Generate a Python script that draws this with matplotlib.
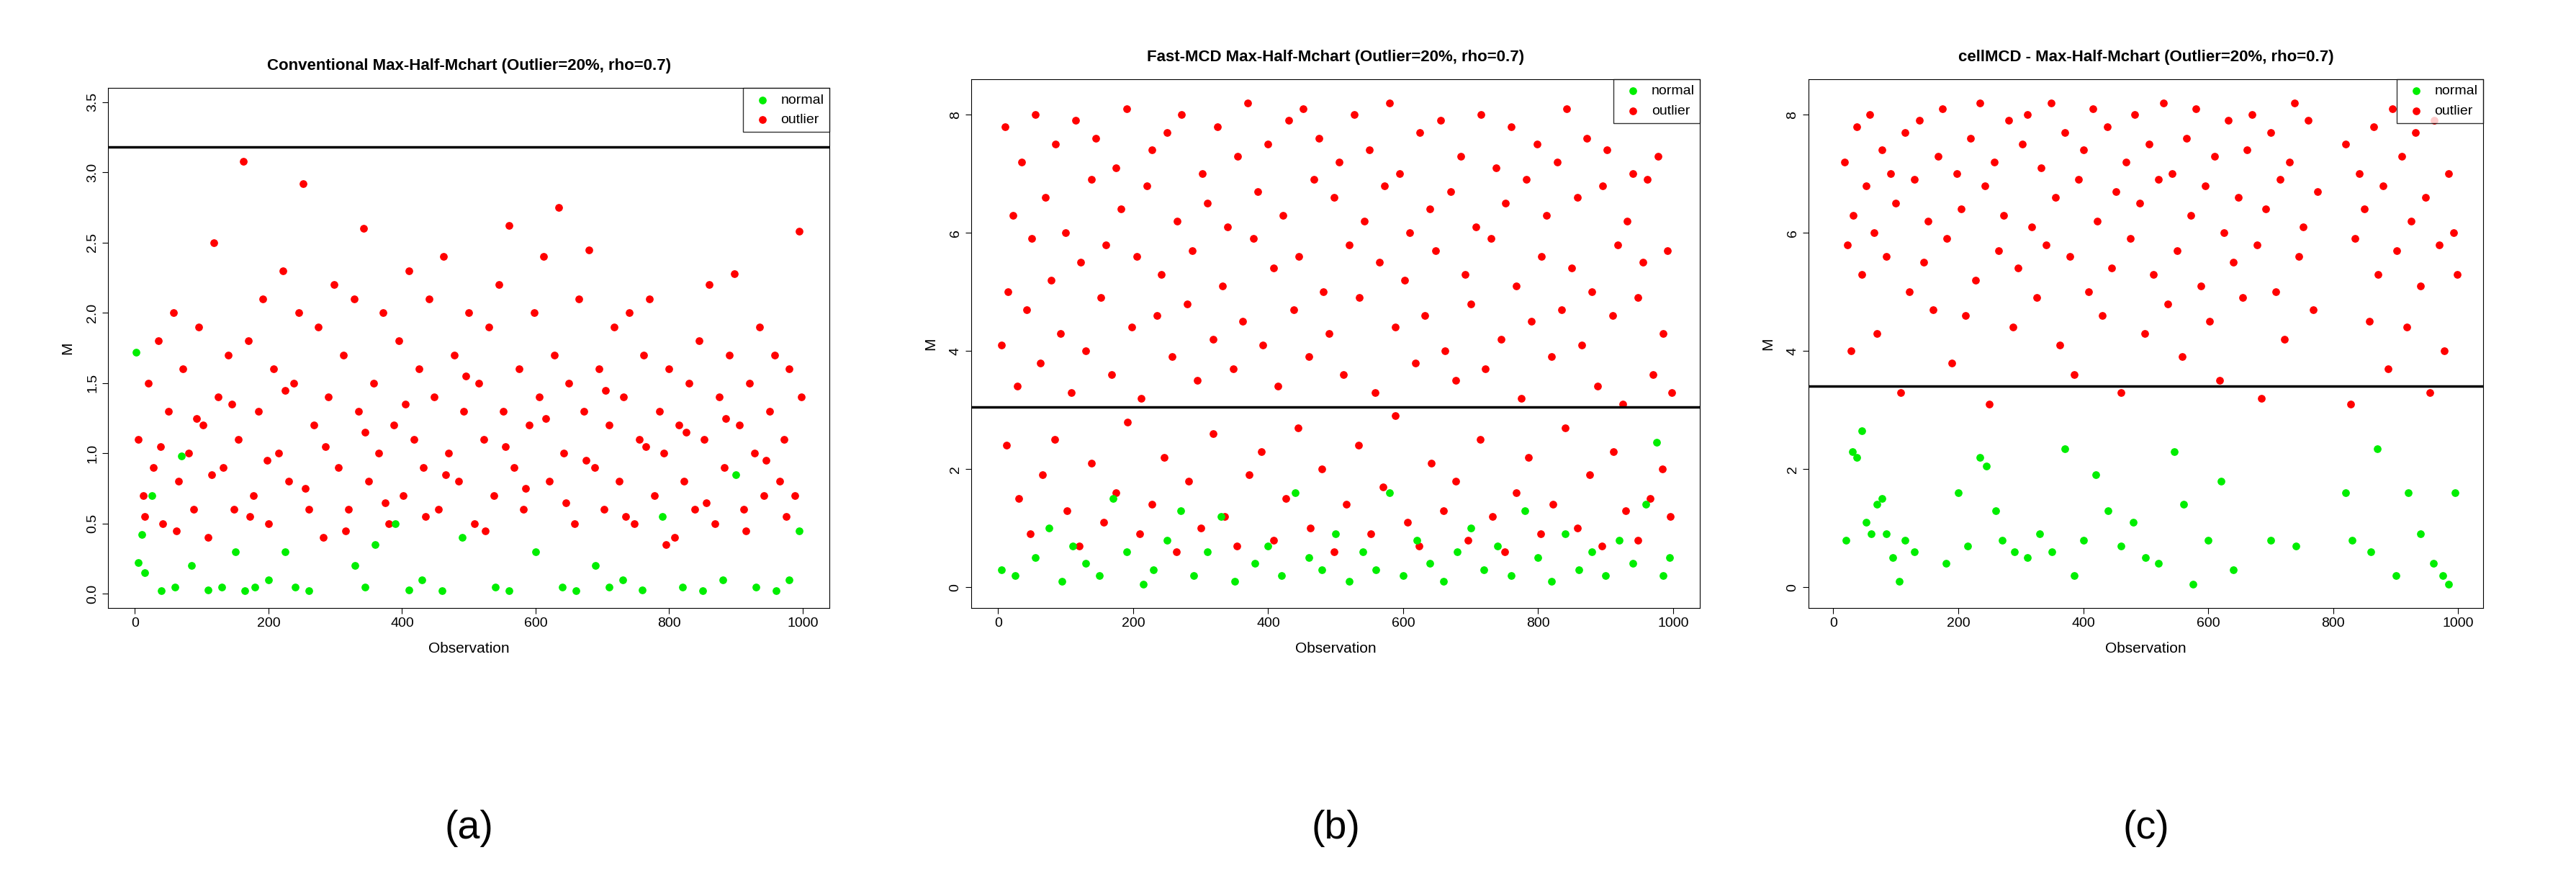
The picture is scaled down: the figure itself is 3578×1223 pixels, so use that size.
import matplotlib.pyplot as plt

plt.rcParams['font.family'] = ['Liberation Sans', 'DejaVu Sans']

# panel (a): conventional
a_red = [(5,1.1),(12,0.7),(20,1.5),(28,0.9),(35,1.8),(42,0.5),(50,1.3),(58,2.0),(65,0.8),(72,1.6),(80,1.0),(88,0.6),(95,1.9),(102,1.2),(110,0.4),(118,2.5),(125,1.4),(132,0.9),(140,1.7),(148,0.6),(155,1.1),(162,3.08),(170,1.8),(178,0.7),(185,1.3),(192,2.1),(200,0.5),(208,1.6),(215,1.0),(222,2.3),(230,0.8),(238,1.5),(245,2.0),(252,2.92),(260,0.6),(268,1.2),(275,1.9),(282,0.4),(290,1.4),(298,2.2),(305,0.9),(312,1.7),(320,0.6),(328,2.1),(335,1.3),(342,2.6),(350,0.8),(358,1.5),(365,1.0),(372,2.0),(380,0.5),(388,1.2),(395,1.8),(402,0.7),(410,2.3),(418,1.1),(425,1.6),(432,0.9),(440,2.1),(448,1.4),(455,0.6),(462,2.4),(470,1.0),(478,1.7),(485,0.8),(492,1.3),(500,2.0),(508,0.5),(515,1.5),(522,1.1),(530,1.9),(538,0.7),(545,2.2),(552,1.3),(560,2.62),(568,0.9),(575,1.6),(582,0.6),(590,1.2),(598,2.0),(605,1.4),(612,2.4),(620,0.8),(628,1.7),(635,2.75),(642,1.0),(650,1.5),(658,0.5),(665,2.1),(672,1.3),(680,2.45),(688,0.9),(695,1.6),(702,0.6),(710,1.2),(718,1.9),(725,0.8),(732,1.4),(740,2.0),(748,0.5),(755,1.1),(762,1.7),(770,2.1),(778,0.7),(785,1.3),(792,1.0),(800,1.6),(808,0.4),(815,1.2),(822,0.8),(830,1.5),(838,0.6),(845,1.8),(852,1.1),(860,2.2),(868,0.5),(875,1.4),(882,0.9),(890,1.7),(898,2.28),(905,1.2),(912,0.6),(920,1.5),(928,1.0),(935,1.9),(942,0.7),(950,1.3),(958,1.7),(965,0.8),(972,1.1),(980,1.6),(988,0.7),(995,2.58),(998,1.4),
         (15,0.55),(38,1.05),(62,0.45),(92,1.25),(115,0.85),(145,1.35),(172,0.55),(198,0.95),(225,1.45),(255,0.75),(285,1.05),(315,0.45),(345,1.15),(375,0.65),(405,1.35),(435,0.55),(465,0.85),(495,1.55),(525,0.45),(555,1.05),(585,0.75),(615,1.25),(645,0.65),(675,0.95),(705,1.45),(735,0.55),(765,1.05),(795,0.35),(825,1.15),(855,0.65),(885,1.25),(915,0.45),(945,0.95),(975,0.55)]
a_green = [(2,1.72),(5,0.22),(10,0.42),(15,0.15),(25,0.7),(40,0.02),(60,0.05),(70,0.98),(85,0.2),(110,0.03),(130,0.05),(150,0.3),(165,0.02),(180,0.05),(200,0.1),(225,0.3),(240,0.05),(260,0.02),(330,0.2),(345,0.05),(360,0.35),(390,0.5),(410,0.03),(430,0.1),(460,0.02),(490,0.4),(540,0.05),(560,0.02),(600,0.3),(640,0.05),(660,0.02),(690,0.2),(710,0.05),(730,0.1),(760,0.03),(790,0.55),(820,0.05),(850,0.02),(880,0.1),(900,0.85),(930,0.05),(960,0.02),(980,0.1),(995,0.45)]

# panel (b): Fast-MCD
b_red = [(5,4.1),(10,7.8),(15,5.0),(22,6.3),(28,3.4),(35,7.2),(42,4.7),(50,5.9),(55,8.0),(62,3.8),(70,6.6),(78,5.2),(85,7.5),(92,4.3),(100,6.0),(108,3.3),(115,7.9),(122,5.5),(130,4.0),(138,6.9),(145,7.6),(152,4.9),(160,5.8),(168,3.6),(175,7.1),(182,6.4),(190,8.1),(198,4.4),(205,5.6),(212,3.2),(220,6.8),(228,7.4),(235,4.6),(242,5.3),(250,7.7),(258,3.9),(265,6.2),(272,8.0),(280,4.8),(288,5.7),(295,3.5),(302,7.0),(310,6.5),(318,4.2),(325,7.8),(332,5.1),(340,6.1),(348,3.7),(355,7.3),(362,4.5),(370,8.2),(378,5.9),(385,6.7),(392,4.1),(400,7.5),(408,5.4),(415,3.4),(422,6.3),(430,7.9),(438,4.7),(445,5.6),(452,8.1),(460,3.9),(468,6.9),(475,7.6),(482,5.0),(490,4.3),(498,6.6),(505,7.2),(512,3.6),(520,5.8),(528,8.0),(535,4.9),(542,6.2),(550,7.4),(558,3.3),(565,5.5),(572,6.8),(580,8.2),(588,4.4),(595,7.0),(602,5.2),(610,6.0),(618,3.8),(625,7.7),(632,4.6),(640,6.4),(648,5.7),(655,7.9),(662,4.0),(670,6.7),(678,3.5),(685,7.3),(692,5.3),(700,4.8),(708,6.1),(715,8.0),(722,3.7),(730,5.9),(738,7.1),(745,4.2),(752,6.5),(760,7.8),(768,5.1),(775,3.2),(782,6.9),(790,4.5),(798,7.5),(805,5.6),(812,6.3),(820,3.9),(828,7.2),(835,4.7),(842,8.1),(850,5.4),(858,6.6),(865,4.1),(872,7.6),(880,5.0),(888,3.4),(895,6.8),(902,7.4),(910,4.6),(918,5.8),(925,3.1),(932,6.2),(940,7.0),(948,4.9),(955,5.5),(962,6.9),(970,3.6),(978,7.3),(985,4.3),(992,5.7),(998,3.3),
         (12,2.4),(30,1.5),(48,0.9),(66,1.9),(84,2.5),(102,1.3),(120,0.7),(138,2.1),(156,1.1),(174,1.6),(192,2.8),(210,0.9),(228,1.4),(246,2.2),(264,0.6),(282,1.8),(300,1.0),(318,2.6),(336,1.2),(354,0.7),(372,1.9),(390,2.3),(408,0.8),(426,1.5),(444,2.7),(462,1.0),(480,2.0),(498,0.6),(516,1.4),(534,2.4),(552,0.9),(570,1.7),(588,2.9),(606,1.1),(624,0.7),(642,2.1),(660,1.3),(678,1.8),(696,0.8),(714,2.5),(732,1.2),(750,0.6),(768,1.6),(786,2.2),(804,0.9),(822,1.4),(840,2.7),(858,1.0),(876,1.9),(894,0.7),(912,2.3),(930,1.3),(948,0.8),(966,1.5),(984,2.0),(996,1.2)]
b_green = [(5,0.3),(25,0.2),(55,0.5),(75,1.0),(95,0.1),(110,0.7),(130,0.4),(150,0.2),(170,1.5),(190,0.6),(215,0.05),(230,0.3),(250,0.8),(270,1.3),(290,0.2),(310,0.6),(330,1.2),(350,0.1),(380,0.4),(400,0.7),(420,0.2),(440,1.6),(460,0.5),(480,0.3),(500,0.9),(520,0.1),(540,0.6),(560,0.3),(580,1.6),(600,0.2),(620,0.8),(640,0.4),(660,0.1),(680,0.6),(700,1.0),(720,0.3),(740,0.7),(760,0.2),(780,1.3),(800,0.5),(820,0.1),(840,0.9),(860,0.3),(880,0.6),(900,0.2),(920,0.8),(940,0.4),(960,1.4),(975,2.45),(985,0.2),(995,0.5)]

# panel (c): cellMCD
c_red = [(18,7.2),(22,5.8),(28,4.0),(32,6.3),(38,7.8),(45,5.3),(52,6.8),(58,8.0),(65,6.0),(70,4.3),(78,7.4),(85,5.6),(92,7.0),(100,6.5),(108,3.3),(115,7.7),(122,5.0),(130,6.9),(138,7.9),(145,5.5),(152,6.2),(160,4.7),(168,7.3),(175,8.1),(182,5.9),(190,3.8),(198,7.0),(205,6.4),(212,4.6),(220,7.6),(228,5.2),(235,8.2),(242,6.8),(250,3.1),(258,7.2),(265,5.7),(272,6.3),(280,7.9),(288,4.4),(295,5.4),(302,7.5),(310,8.0),(318,6.1),(325,4.9),(332,7.1),(340,5.8),(348,8.2),(355,6.6),(362,4.1),(370,7.7),(378,5.6),(385,3.6),(392,6.9),(400,7.4),(408,5.0),(415,8.1),(422,6.2),(430,4.6),(438,7.8),(445,5.4),(452,6.7),(460,3.3),(468,7.2),(475,5.9),(482,8.0),(490,6.5),(498,4.3),(505,7.5),(512,5.3),(520,6.9),(528,8.2),(535,4.8),(542,7.0),(550,5.7),(558,3.9),(565,7.6),(572,6.3),(580,8.1),(588,5.1),(595,6.8),(602,4.5),(610,7.3),(618,3.5),(625,6.0),(632,7.9),(640,5.5),(648,6.6),(655,4.9),(662,7.4),(670,8.0),(678,5.8),(685,3.2),(692,6.4),(700,7.7),(708,5.0),(715,6.9),(722,4.2),(730,7.2),(738,8.2),(745,5.6),(752,6.1),(760,7.9),(768,4.7),(775,6.7),(820,7.5),(828,3.1),(835,5.9),(842,7.0),(850,6.4),(858,4.5),(865,7.8),(872,5.3),(880,6.8),(888,3.7),(895,8.1),(902,5.7),(910,7.3),(918,4.4),(925,6.2),(932,7.7),(940,5.1),(948,6.6),(955,3.3),(962,7.9),(970,5.8),(978,4.0),(985,7.0),(992,6.0),(998,5.3)]
c_green = [(20,0.8),(30,2.3),(38,2.2),(45,2.65),(52,1.1),(60,0.9),(70,1.4),(78,1.5),(85,0.9),(95,0.5),(105,0.1),(115,0.8),(130,0.6),(180,0.4),(200,1.6),(215,0.7),(235,2.2),(245,2.05),(260,1.3),(270,0.8),(290,0.6),(310,0.5),(330,0.9),(350,0.6),(370,2.35),(385,0.2),(400,0.8),(420,1.9),(440,1.3),(460,0.7),(480,1.1),(500,0.5),(520,0.4),(545,2.3),(560,1.4),(575,0.05),(600,0.8),(620,1.8),(640,0.3),(700,0.8),(740,0.7),(820,1.6),(830,0.8),(860,0.6),(870,2.35),(900,0.2),(920,1.6),(940,0.9),(960,0.4),(975,0.2),(985,0.05),(995,1.6)]

panels = [
    ("Conventional Max-Half-Mchart (Outlier=20%, rho=0.7)", a_red, a_green, 3.18,
     (-0.1, 3.6), [0.0, 0.5, 1.0, 1.5, 2.0, 2.5, 3.0, 3.5], "(a)", [0.042, 0.31, 0.28, 0.59]),
    ("Fast-MCD Max-Half-Mchart (Outlier=20%, rho=0.7)", b_red, b_green, 3.05,
     (-0.35, 8.6), [0, 2, 4, 6, 8], "(b)", [0.377, 0.31, 0.283, 0.6]),
    ("cellMCD - Max-Half-Mchart (Outlier=20%, rho=0.7)", c_red, c_green, 3.4,
     (-0.35, 8.6), [0, 2, 4, 6, 8], "(c)", [0.702, 0.31, 0.262, 0.6]),
]

fig = plt.figure(figsize=(35.78, 12.23), dpi=100)
for title, red, green, limit, ylim, yticks, tag, rect in panels:
    ax = fig.add_axes(rect)
    ax.scatter([p[0] for p in green], [p[1] for p in green], color='#00ee00', s=45, zorder=3, label='normal')
    ax.scatter([p[0] for p in red], [p[1] for p in red], color='#ff0000', s=45, zorder=2, label='outlier')
    ax.axhline(limit, color='black', lw=2.5)
    ax.set_xlim(-40, 1040)
    ax.set_ylim(*ylim)
    ax.set_xticks([0, 200, 400, 600, 800, 1000])
    ax.set_yticks(yticks)
    ax.set_yticklabels([str(t) for t in yticks], rotation=90, va='center')
    ax.tick_params(labelsize=14, length=6)
    ax.set_xlabel("Observation", fontsize=15, labelpad=12)
    ax.set_ylabel("M", fontsize=15, labelpad=12)
    ax.set_title(title, fontsize=16, fontweight='bold', pad=18)
    leg = ax.legend(loc='upper right', fontsize=14, fancybox=False, edgecolor='black',
                    handletextpad=0.3, borderaxespad=0, markerscale=1.0)
    leg.get_frame().set_linewidth(1.0)
    x0 = rect[0] + rect[2] / 2
    fig.text(x0, 0.06, tag, ha='center', va='center', fontsize=40)

fig.savefig("out.png", dpi=100)
